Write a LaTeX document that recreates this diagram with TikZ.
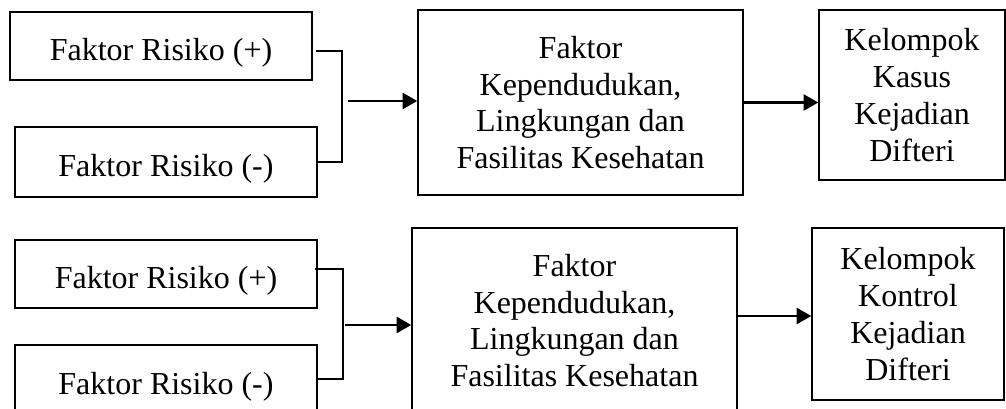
\documentclass[tikz,border=0pt]{standalone}
\usepackage{fontspec}
\setmainfont{Liberation Serif}
\usetikzlibrary{arrows.meta,calc}
\begin{document}
\begin{tikzpicture}[x=0.75pt,y=-0.75pt,
  box/.style={draw, line width=1.1pt, inner sep=0pt, align=center,
    font=\fontsize{24}{27.6}\selectfont},
  one/.style={text height=27pt, text depth=4.5pt},
  lnk/.style={line width=1.1pt},
  arr/.style={line width=1.9pt, -{Triangle[length=11pt,width=12pt]}}]
\useasboundingbox (0,0) rectangle (1006,409);
\clip (0,0) rectangle (1006,409);

% top row
\node[box,one,minimum width=226.5pt,minimum height=51pt] (A1) at (161,46) {Faktor Risiko (+)};
\node[box,one,minimum width=226.5pt,minimum height=52.5pt] (A2) at (166,162) {Faktor Risiko (-)};
\node[box,minimum width=243.75pt,minimum height=138.75pt] (B) at (580.5,102.5)
  {Faktor\\Kependudukan,\\Lingkungan dan\\Fasilitas Kesehatan};
\node[box,minimum width=139.5pt,minimum height=127.5pt] (K1) at (912,95)
  {Kelompok\\Kasus\\Kejadian\\Difteri};

\coordinate (j1) at (342,101);
\draw[lnk] ($(A1.east)+(3,5)$) -| (j1) |- (A2.east);
\draw[arr] ($(j1)+(6,0)$) -- (j1 -| B.west);
\draw[arr] (B.east) -- (B.east -| K1.west);

% bottom row
\node[box,one,minimum width=226.5pt,minimum height=51pt] (C1) at (166,274) {Faktor Risiko (+)};
\node[box,one,minimum width=226.5pt,minimum height=51pt] (C2) at (166,379) {Faktor Risiko (-)};
\node[box,minimum width=243.75pt,minimum height=138.75pt] (D) at (574.5,320.5)
  {Faktor\\Kependudukan,\\Lingkungan dan\\Fasilitas Kesehatan};
\node[box,minimum width=144pt,minimum height=129pt] (K2) at (908,314)
  {Kelompok\\Kontrol\\Kejadian\\Difteri};

\coordinate (j2) at (343,325);
\draw[lnk] ($(C1.east)+(-3,-5)$) -| (j2) |- (C2.east);
\draw[arr] ($(j2)+(2,0)$) -- (j2 -| D.west);
\draw[arr] ($(D.east)+(0,-4.5)$) coordinate (s3) -- (s3 -| K2.west);
\end{tikzpicture}
\end{document}
